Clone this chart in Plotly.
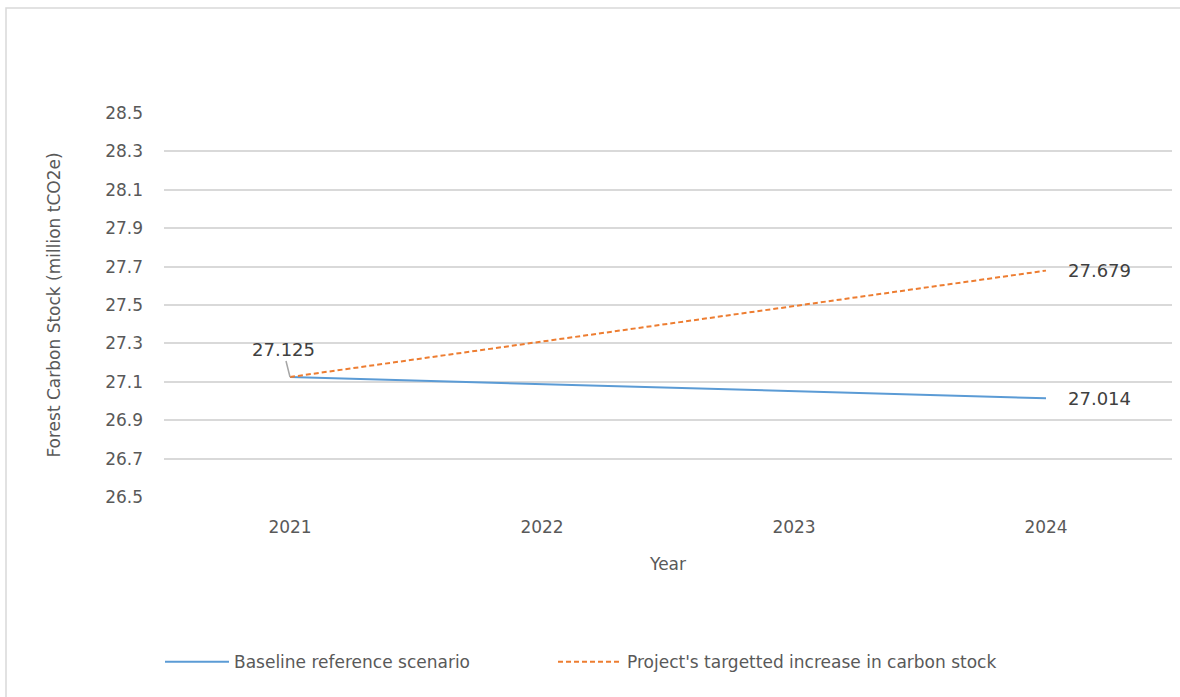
import plotly.graph_objects as go

years = ["2021", "2022", "2023", "2024"]
baseline = [27.125, 27.088, 27.051, 27.014]
project = [27.125, 27.310, 27.494, 27.679]
y_ticks = [26.5, 26.7, 26.9, 27.1, 27.3, 27.5, 27.7, 27.9, 28.1, 28.3, 28.5]

FONT = "DejaVu Sans"
TXT = "#595959"
GRID = "#D9D9D9"
BLUE = "#5B9BD5"
ORANGE = "#ED7D31"

fig = go.Figure()
fig.add_trace(go.Scatter(x=years, y=baseline, mode="lines", name="Baseline reference scenario",
                         line=dict(color=BLUE, width=2), legend="legend"))
fig.add_trace(go.Scatter(x=years, y=project, mode="lines", name="Project's targetted increase in carbon stock",
                         line=dict(color=ORANGE, width=2, dash="5px,3px"), legend="legend2"))

# data labels (category axis -> use category index)
first, last = 0, len(years) - 1
fig.add_annotation(x=first, y=baseline[first], text=f"{baseline[first]:.3f}", showarrow=True,
                   arrowhead=0, arrowwidth=1.5, arrowcolor="#A6A6A6", ax=-7, ay=-28,
                   font=dict(family=FONT, size=18, color="#404040"))
fig.add_annotation(x=last, y=project[last], text=f"{project[last]:.3f}", showarrow=False,
                   xanchor="left", xshift=20, font=dict(family=FONT, size=18, color="#404040"))
fig.add_annotation(x=last, y=baseline[last], text=f"{baseline[last]:.3f}", showarrow=False,
                   xanchor="left", xshift=20, font=dict(family=FONT, size=18, color="#404040"))

# chart border
L, R, T, B = 164, 8, 113, 200
W, H = 1180, 697
pw, ph = W - L - R, H - T - B
fig.add_shape(type="rect", xref="paper", yref="paper",
              x0=(6 - L) / pw, x1=(1190 - L) / pw, y0=(ph + T - 710) / ph, y1=(ph + T - 8) / ph,
              line=dict(color=GRID, width=1.5), fillcolor="rgba(0,0,0,0)", layer="below")

leg_common = dict(orientation="h", xanchor="left", y=-0.43, yanchor="middle",
                  font=dict(family=FONT, size=17, color=TXT), itemwidth=64,
                  bgcolor="rgba(0,0,0,0)")

fig.update_layout(
    width=W, height=H,
    margin=dict(l=L, r=R, t=T, b=B),
    paper_bgcolor="white", plot_bgcolor="white",
    font=dict(family=FONT, size=17, color=TXT),
    showlegend=True,
    legend=dict(x=(160 - L) / pw, **leg_common),
    legend2=dict(x=(553 - L) / pw, **leg_common),
    xaxis=dict(type="category", range=[-0.5, len(years) - 0.5], showgrid=False, showline=False,
               zeroline=False, ticks="", ticklabelstandoff=18,
               title=dict(text="Year", standoff=22, font=dict(family=FONT, size=17, color=TXT))),
    yaxis=dict(range=[26.5, 28.5], tickvals=y_ticks, ticktext=[f"{v:.1f}" for v in y_ticks],
               showgrid=True, gridcolor=GRID, gridwidth=1.5, zeroline=False, showline=False,
               ticks="", ticklabelstandoff=20,
               title=dict(text="Forest Carbon Stock (million tCO2e)", standoff=40,
                          font=dict(family=FONT, size=17, color=TXT))),
)

fig.write_html("out.html")
